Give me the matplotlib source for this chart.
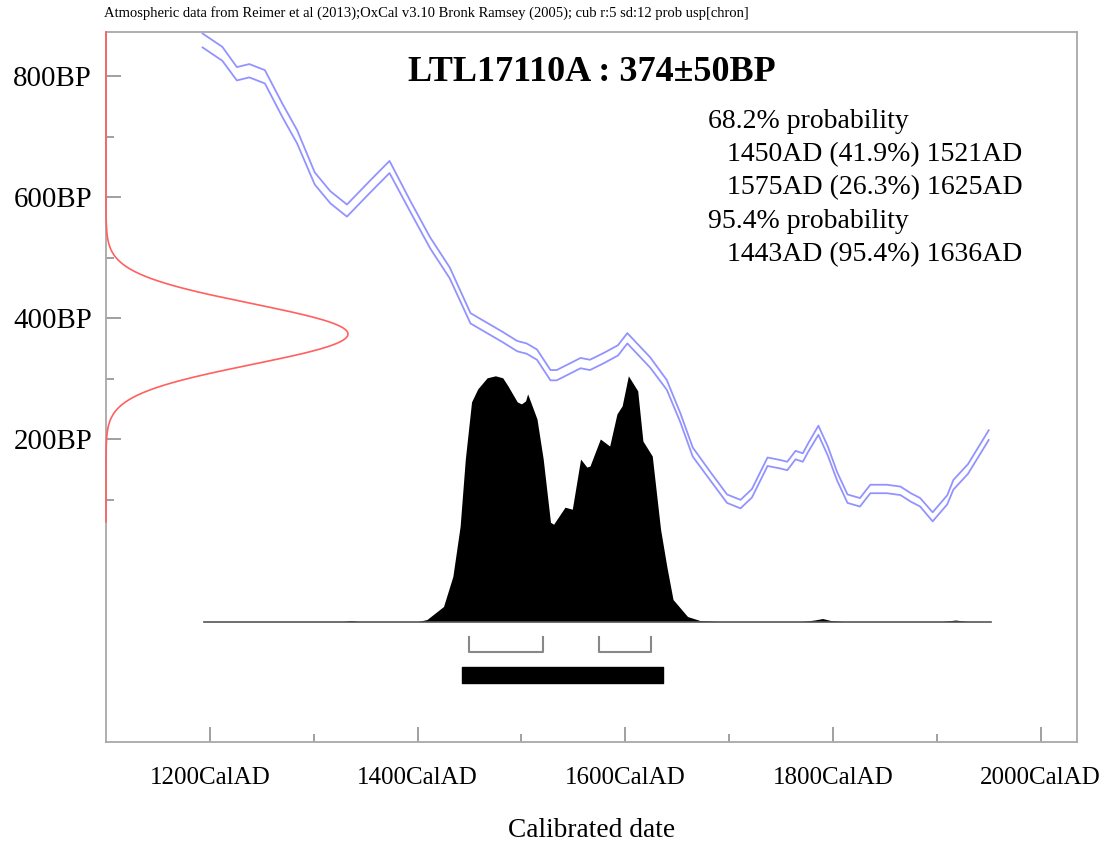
import numpy as np
import matplotlib
matplotlib.use("Agg")
import matplotlib.pyplot as plt

plt.rcParams['font.family'] = ['Liberation Serif', 'DejaVu Serif']

# Sample: radiocarbon age and error
sample_name = "LTL17110A"
c14_age = 374
c14_err = 50

# Calibration curve (cal AD, mean BP, 1-sigma BP)
cal_year = [1193, 1212, 1226, 1238, 1253, 1270, 1284, 1301, 1316, 1332,
            1354, 1373, 1393, 1412, 1431, 1451, 1482, 1496, 1505, 1515,
            1528, 1534, 1557, 1566, 1579, 1593, 1602, 1624, 1640, 1653,
            1665, 1682, 1698, 1711, 1722, 1737, 1749, 1756, 1764, 1771,
            1776, 1786, 1795, 1804, 1814, 1826, 1836, 1852, 1865, 1875,
            1884, 1896, 1910, 1916, 1930, 1950]
cal_bp = [859, 837, 804, 809, 799, 743, 700, 631, 600, 578,
          617, 650, 585, 525, 475, 400, 369, 354, 350, 340,
          306, 306, 326, 323, 334, 347, 367, 327, 290, 236,
          179, 139, 102, 93, 111, 163, 159, 156, 174, 170,
          186, 215, 181, 139, 102, 96, 118, 118, 115, 104,
          96, 72, 100, 125, 151, 207]
cal_sig = [11.5, 11.5, 11, 11, 11, 11, 11, 10, 10, 10,
           10, 10, 9, 9, 9, 8.5, 8.5, 8.5, 8.5, 8.5,
           8.5, 8.5, 8.5, 8.5, 8.5, 8.5, 8.5, 8.5, 8, 7.5,
           7.5, 7, 7, 7, 7, 7, 7, 7, 7, 7,
           7, 7.5, 7.5, 7, 7, 7, 7, 7, 7, 7,
           7, 7.5, 7.5, 8, 8, 8]

# Calibrated probability distribution (cal AD, relative probability)
prob_year = [1194, 1328, 1336, 1344, 1383, 1400, 1409, 1425, 1434, 1441,
             1446, 1452, 1458, 1467, 1475, 1482, 1487, 1496, 1500, 1504,
             1506, 1515, 1521, 1528, 1531, 1542, 1549, 1557, 1563, 1566,
             1576, 1585, 1592, 1597, 1603, 1612, 1617, 1626, 1634, 1640,
             1646, 1660, 1672, 1691, 1770, 1782, 1790, 1798, 1810, 1905,
             1918, 1930, 1952]
prob_val = [0, 0, 1, 0, 0, 0, 2, 15, 45, 95,
            162, 219, 232, 243, 245, 243, 235, 219, 217, 220,
            227, 202, 162, 99, 97, 114, 112, 162, 154, 155,
            182, 175, 207, 215, 245, 230, 180, 165, 92, 55,
            22, 5, 1, 0, 0, 1.5, 3, 1, 0, 0,
            1.5, 0, 0]

# Highest probability ranges
range68 = [(1450, 1521, 41.9), (1575, 1625, 26.3)]
range95 = [(1443, 1636, 95.4)]

fig = plt.figure(figsize=(11.13, 8.43), dpi=100)
ax = fig.add_axes([106 / 1113, 1 - 742 / 843, 971 / 1113, 710 / 843])
ax.set_xlim(1100, 2035)
ax.set_ylim(-300, 873)

# calibration curve, +/- 1 sigma
yr = np.array(cal_year)
bp = np.array(cal_bp)
sg = np.array(cal_sig)
ax.plot(yr, bp + sg, color='#9393ff', lw=1.3)
ax.plot(yr, bp - sg, color='#9393ff', lw=1.3)

# radiocarbon measurement along the age axis
bp_grid = np.linspace(64, 873, 600)
g = np.exp(-(bp_grid - c14_age) ** 2 / (2 * c14_err ** 2))
ax.plot(1100 + 233 * g, bp_grid, color='#ff6060', lw=1.2, clip_on=False, zorder=5)

# calibrated distribution
base = -101
py = np.array(prob_year)
pv = np.array(prob_val) / max(prob_val)
ax.fill_between(py, base, base + 406 * pv, color='black', lw=0)
ax.plot([py[0], py[-1]], [base, base], color='#555555', lw=1.2)

# 68.2% brackets
for lo, hi, p in range68:
    ax.plot([lo, lo, hi, hi], [-126, -151, -151, -126], color='#888888', lw=1.5)
# 95.4% bar
for lo, hi, p in range95:
    ax.broken_barh([(lo, hi - lo)], (-202, 26), color='black')

# axes styling
for s in ax.spines.values():
    s.set_color('#a8a8a8')
    s.set_linewidth(1.3)
ax.set_xticks([1200, 1400, 1600, 1800, 2000])
ax.set_xticklabels([f"{v}CalAD" for v in [1200, 1400, 1600, 1800, 2000]])
ax.set_xticks([1300, 1500, 1700, 1900], minor=True)
ax.set_yticks([200, 400, 600, 800])
ax.set_yticklabels([f"{v}BP" for v in [200, 400, 600, 800]])
ax.set_yticks([100, 300, 500, 700], minor=True)
ax.tick_params(which='both', direction='in', color='#999999', width=1.3)
ax.tick_params(which='major', length=11)
ax.tick_params(which='minor', length=6)
ax.tick_params(axis='x', which='major', labelsize=18, pad=18)
ax.tick_params(axis='y', which='major', labelsize=20.8, pad=10)

ax.text(0.5, -0.124, "Calibrated date", transform=ax.transAxes,
        ha='center', va='center', fontsize=19.7)

ax.text(0.5, 0.943, f"{sample_name} : {c14_age}\u00b1{c14_err}BP",
        transform=ax.transAxes, ha='center', va='center',
        fontsize=26, fontweight='bold')

# probability summary
lines = [("68.2% probability", 0)]
for lo, hi, p in range68:
    lines.append((f"{lo}AD ({p}%) {hi}AD", 1))
lines.append(("95.4% probability", 0))
for lo, hi, p in range95:
    lines.append((f"{lo}AD ({p}%) {hi}AD", 1))
for i, (txt, ind) in enumerate(lines):
    fig.text((708 + 19 * ind) / 1113, 1 - (121 + 33.5 * i) / 843, txt,
             ha='left', va='center', fontsize=20)

fig.text(104 / 1113, 1 - 13 / 843,
         "Atmospheric data from Reimer et al (2013);OxCal v3.10 Bronk Ramsey (2005); "
         "cub r:5 sd:12 prob usp[chron]",
         ha='left', va='center', fontsize=10.5)

fig.savefig("out.png", dpi=100)
